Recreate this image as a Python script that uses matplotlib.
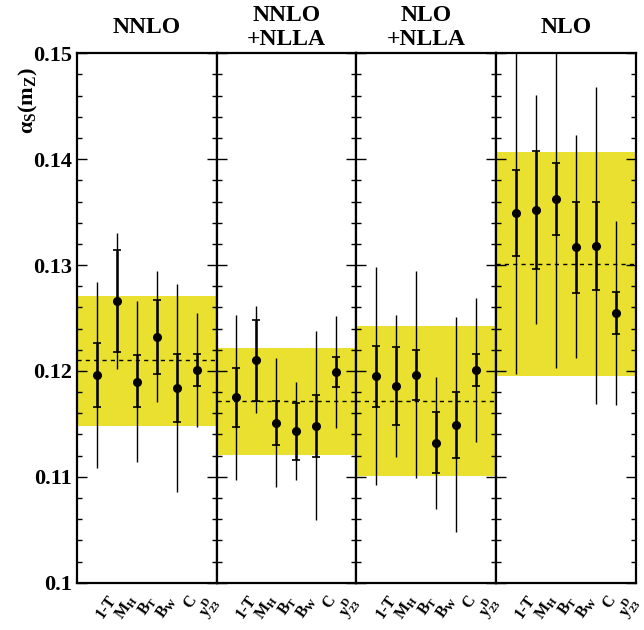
import matplotlib

matplotlib.use("Agg")

import matplotlib.pyplot as plt
import matplotlib.transforms as mtransforms
from matplotlib.ticker import MultipleLocator, NullLocator

plt.rcParams["font.family"] = ["Liberation Serif", "DejaVu Serif"]
plt.rcParams["font.weight"] = "bold"
plt.rcParams["mathtext.fontset"] = "custom"
plt.rcParams["mathtext.rm"] = "Liberation Serif:bold"
plt.rcParams["mathtext.it"] = "Liberation Serif:bold"
plt.rcParams["mathtext.bf"] = "Liberation Serif:bold"

observables = ["1-T", "$M_H$", "$B_T$", "$B_W$", "C", "$y^D_{23}$"]
titles = ["NNLO", "NNLO\n+NLLA", "NLO\n+NLLA", "NLO"]

# alpha_s per observable, inner (stat) and outer (total) error bar ends
nnlo_val = [0.1196, 0.1266, 0.1190, 0.1232, 0.1184, 0.1201]
nnlo_stat_hi = [0.1226, 0.1314, 0.1215, 0.1267, 0.1216, 0.1216]
nnlo_stat_lo = [0.1166, 0.1218, 0.1166, 0.1197, 0.1152, 0.1186]
nnlo_tot_hi = [0.1284, 0.1330, 0.1266, 0.1294, 0.1282, 0.1255]
nnlo_tot_lo = [0.1108, 0.1202, 0.1114, 0.1171, 0.1086, 0.1147]

nnlo_nlla_val = [0.1175, 0.1210, 0.1151, 0.1143, 0.1148, 0.1199]
nnlo_nlla_stat_hi = [0.1203, 0.1248, 0.1172, 0.1170, 0.1177, 0.1213]
nnlo_nlla_stat_lo = [0.1147, 0.1172, 0.1130, 0.1116, 0.1119, 0.1185]
nnlo_nlla_tot_hi = [0.1253, 0.1261, 0.1212, 0.1190, 0.1238, 0.1252]
nnlo_nlla_tot_lo = [0.1097, 0.1160, 0.1090, 0.1097, 0.1059, 0.1146]

nlo_nlla_val = [0.1195, 0.1186, 0.1196, 0.1132, 0.1149, 0.1201]
nlo_nlla_stat_hi = [0.1224, 0.1223, 0.1220, 0.1161, 0.1180, 0.1216]
nlo_nlla_stat_lo = [0.1166, 0.1149, 0.1173, 0.1104, 0.1118, 0.1186]
nlo_nlla_tot_hi = [0.1298, 0.1253, 0.1294, 0.1194, 0.1251, 0.1269]
nlo_nlla_tot_lo = [0.1092, 0.1119, 0.1099, 0.1070, 0.1048, 0.1133]

nlo_val = [0.1349, 0.1352, 0.1362, 0.1317, 0.1318, 0.1255]
nlo_stat_hi = [0.1390, 0.1408, 0.1396, 0.1360, 0.1360, 0.1275]
nlo_stat_lo = [0.1309, 0.1296, 0.1328, 0.1274, 0.1276, 0.1235]
nlo_tot_hi = [0.1530, 0.1461, 0.1530, 0.1423, 0.1468, 0.1342]
nlo_tot_lo = [0.1197, 0.1244, 0.1203, 0.1212, 0.1169, 0.1168]

# combined value and band for each panel
combined_mean = [0.1210, 0.1172, 0.1172, 0.1301]
band_lo = [0.1148, 0.1121, 0.1101, 0.1195]
band_hi = [0.1271, 0.1222, 0.1242, 0.1407]

panels = [
    (nnlo_val, nnlo_stat_lo, nnlo_stat_hi, nnlo_tot_lo, nnlo_tot_hi),
    (nnlo_nlla_val, nnlo_nlla_stat_lo, nnlo_nlla_stat_hi, nnlo_nlla_tot_lo, nnlo_nlla_tot_hi),
    (nlo_nlla_val, nlo_nlla_stat_lo, nlo_nlla_stat_hi, nlo_nlla_tot_lo, nlo_nlla_tot_hi),
    (nlo_val, nlo_stat_lo, nlo_stat_hi, nlo_tot_lo, nlo_tot_hi),
]

fig = plt.figure(figsize=(6.44, 6.30), dpi=100)

left = 76.7 / 644
width = (636 - 76.7) / 644 / 4
bottom = (630 - 582.7) / 630
height = (582.7 - 53.3) / 630

xs = list(range(1, len(observables) + 1))
label_shift = mtransforms.ScaledTranslation(0.10, 0, fig.dpi_scale_trans)

for i, (val, st_lo, st_hi, tot_lo, tot_hi) in enumerate(panels):
    ax = fig.add_axes([left + i * width, bottom, width, height])
    ax.set_xlim(0, 7)
    ax.set_ylim(0.1, 0.15)

    ax.axhspan(band_lo[i], band_hi[i], color="#e9e02f", lw=0, zorder=1)
    ax.axhline(combined_mean[i], color="black", lw=1.0, ls=(0, (3, 3)), zorder=2)

    tot_err = [[v - lo for v, lo in zip(val, tot_lo)], [hi - v for v, hi in zip(val, tot_hi)]]
    st_err = [[v - lo for v, lo in zip(val, st_lo)], [hi - v for v, hi in zip(val, st_hi)]]

    ax.errorbar(xs, val, yerr=tot_err, fmt="none", ecolor="black", elinewidth=1.0, zorder=3)
    ax.errorbar(xs, val, yerr=st_err, fmt="o", color="black", ms=5.5,
                elinewidth=1.8, capsize=3.0, capthick=1.2, zorder=4)

    for side in ax.spines.values():
        side.set_linewidth(1.6)
        side.set_zorder(5)

    ax.yaxis.set_major_locator(MultipleLocator(0.01))
    ax.yaxis.set_minor_locator(MultipleLocator(0.002))
    ax.tick_params(axis="y", which="both", direction="in", left=True, right=True, width=1.0)
    ax.tick_params(axis="y", which="major", length=7.5)
    ax.tick_params(axis="y", which="minor", length=3.8)
    if i == 0:
        ax.set_yticks([0.10, 0.11, 0.12, 0.13, 0.14, 0.15])
        ax.set_yticklabels(["0.1", "0.11", "0.12", "0.13", "0.14", "0.15"])
        ax.tick_params(axis="y", which="major", labelsize=16, pad=3.5)
        ax.set_ylabel(r"$\alpha_S(m_Z)$", fontsize=16, rotation=90)
        ax.yaxis.set_label_coords(-0.26, 0.91)
    else:
        ax.tick_params(axis="y", labelleft=False)

    ax.set_xticks(xs)
    ax.set_xticklabels(observables, rotation=55, ha="right", va="top",
                       rotation_mode="anchor", fontsize=11.5, fontweight="bold")
    ax.tick_params(axis="x", length=0, pad=7)
    ax.xaxis.set_minor_locator(NullLocator())
    for lab in ax.get_xticklabels():
        lab.set_transform(lab.get_transform() + label_shift)

    ax.text(0.5, 1 + 26 / 529.4, titles[i], transform=ax.transAxes, ha="center",
            va="center", fontsize=17, fontweight="bold", linespacing=1.2)

fig.savefig("out.png", dpi=100)
